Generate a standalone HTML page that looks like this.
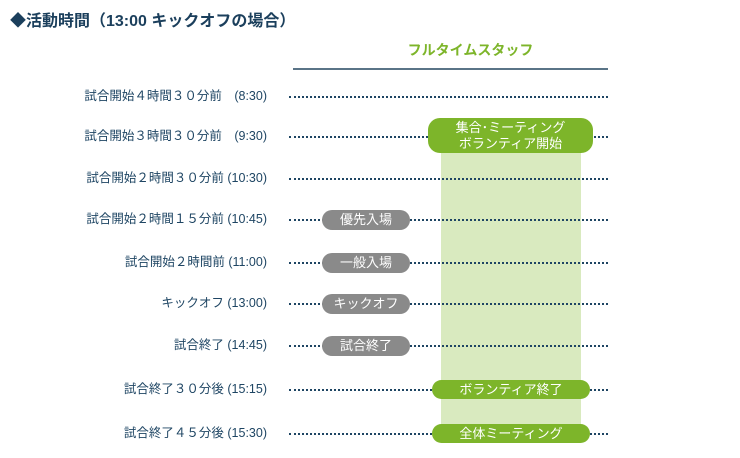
<!DOCTYPE html>
<html><head><meta charset="utf-8">
<style>
body{margin:0;background:#fff;}
#wrap{position:relative;width:740px;height:458px;overflow:hidden;font-family:"Liberation Sans","Noto Sans CJK JP",sans-serif;}
.abs{position:absolute;}
.title{left:10px;top:7px;font-size:16px;font-weight:bold;color:#1b3f5c;white-space:nowrap;}
.head{left:293px;width:315px;top:40px;text-align:center;font-size:14px;font-weight:bold;color:#7db52a;padding-left:40px;box-sizing:border-box;}
.hline{left:293px;width:315px;top:68px;height:2px;background:#5a7487;}
.lab{right:473px;font-size:12.5px;color:#1e4563;white-space:nowrap;line-height:16px;}
.dot{left:289px;width:319px;height:0;border-top:2px dotted #1e4563;}
.band{background:#d9eabf;}
.pill{color:#fff;text-align:center;white-space:nowrap;font-size:13px;}
</style></head><body>
<div id="wrap">
<div class="abs title">◆活動時間（13:00 キックオフの場合）</div>
<div class="abs head">フルタイムスタッフ</div>
<div class="abs hline"></div>
</div>
<script>
const rowLabels=["試合開始４時間３０分前　(8:30)","試合開始３時間３０分前　(9:30)","試合開始２時間３０分前 (10:30)","試合開始２時間１５分前 (10:45)","試合開始２時間前 (11:00)","キックオフ (13:00)","試合終了 (14:45)","試合終了３０分後 (15:15)","試合終了４５分後 (15:30)"];
const rowY=[97,137,179,220,263,304,346,390,434];
const grayEvents=["優先入場","一般入場","キックオフ","試合終了"];
const grayRows=[3,4,5,6];
const greenEvents=["ボランティア終了","全体ミーティング"];
const greenRows=[7,8];
const bandStartRow=1, bandEndRow=8;
const W=document.getElementById('wrap');
function y(i){return rowY[i];}
function mk(cls,css,txt){const d=document.createElement('div');d.className='abs '+cls;Object.assign(d.style,css);if(txt)d.innerHTML=txt;W.appendChild(d);return d;}
// band
const band=mk('band',{left:'441px',width:'140px',top:(y(bandStartRow)+16)+'px',height:(y(bandEndRow)-10-(y(bandStartRow)+16))+'px'});


rowLabels.forEach((t,i)=>{
  const l=mk('lab',{top:(y(i)-9)+'px'},t);
  
  
  const d=mk('dot',{top:(y(i)-1)+'px'});
  
  
});
// start pill
const p0=mk('pill',{left:'428px',width:'165px',top:(y(bandStartRow)-19)+'px',height:'35px',background:'#7db52a',borderRadius:'12px',fontSize:'13px',lineHeight:'16px',paddingTop:'2px',boxSizing:'border-box'},'集合･ミーティング<br>ボランティア開始');


grayEvents.forEach((t,k)=>{
  const p=mk('pill',{left:'322px',width:'88px',top:(y(grayRows[k])-10)+'px',height:'20px',lineHeight:'20px',background:'#8a8a8a',borderRadius:'10px'},t);
  
  
});
greenEvents.forEach((t,k)=>{
  const p=mk('pill',{left:'432px',width:'158px',top:(y(greenRows[k])-10)+'px',height:'19px',lineHeight:'19px',background:'#7db52a',borderRadius:'10px'},t);
  
  
});
</script>
</body></html>
